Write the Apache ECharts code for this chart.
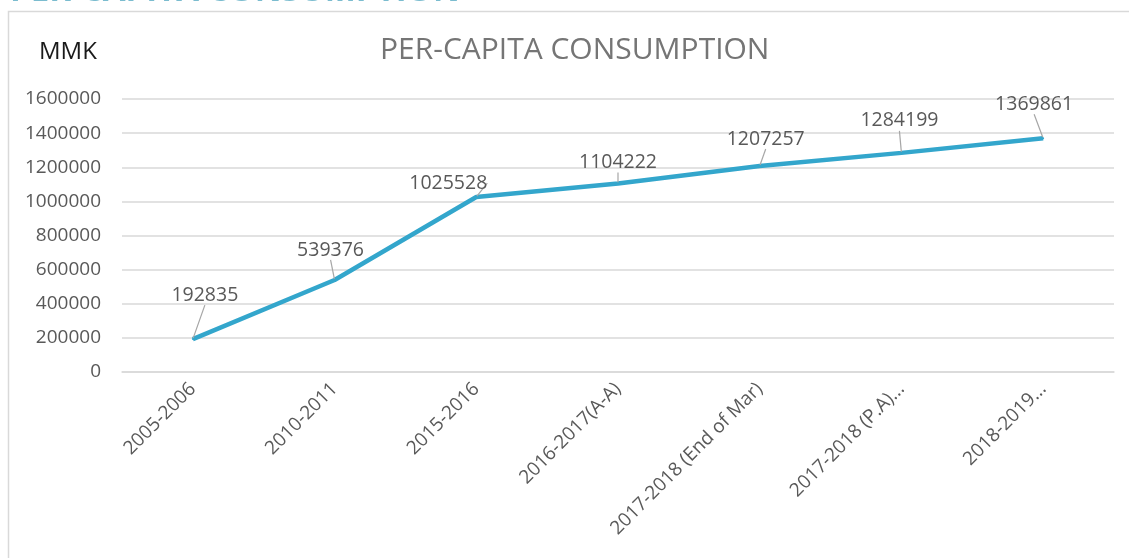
<!DOCTYPE html>
<html>
<head>
<meta charset="utf-8">
<script src="https://cdn.jsdelivr.net/npm/echarts@6/dist/echarts.min.js"></script>
<style>
html,body{margin:0;padding:0;background:#fff;}
#chart{width:1129px;height:558px;}
</style>
</head>
<body>
<div id="chart"></div>
<script>
const categories = ['2005-2006','2010-2011','2015-2016','2016-2017(A-A)','2017-2018 (End of Mar)','2017-2018 (P.A)...','2018-2019...'];
const consumption = [192835, 539376, 1025528, 1104222, 1207257, 1284199, 1369861];
const chartTitle = 'PER-CAPITA CONSUMPTION';
const unitLabel = 'MMK';
const pageHeading = 'PER-CAPITA CONSUMPTION';

// label offsets from each point (style only)
const labelShift = [[12,-44],[-4,-30],[-28,-14],[0,-21],[6,-27],[-2,-32],[-9,-34]];

const chart = echarts.init(document.getElementById('chart'));
const font = '"Open Sans", Calibri, "Liberation Sans", sans-serif';
chart.setOption({
  animation:false,
  backgroundColor:'#fff',
  graphic:[
    {type:'rect', shape:{x:8.5,y:11.5,width:1140,height:560}, style:{fill:'none',stroke:'#d9d9d9',lineWidth:1.5}, z:-1},
    {type:'text', style:{x:10, y:8, verticalAlign:'bottom', text:pageHeading, fill:'#7bbccf', font:'bold 33px ' + font}},
    {type:'text', left:39, top:40, style:{text:unitLabel, fill:'#1a1a1a', font:'24px ' + font}}
  ],
  title:{
    text:chartTitle, left:375, top:30,
    textStyle:{color:'#757575', fontSize:30, fontWeight:'normal', fontFamily:font}
  },
  grid:{left:122, right:15, top:99, bottom:186},
  xAxis:{
    type:'category', data:categories, boundaryGap:true,
    axisLine:{show:true, lineStyle:{color:'#d9d9d9', width:1.5}},
    axisTick:{show:false},
    axisLabel:{rotate:45, color:'#595959', fontSize:19, fontFamily:font, margin:14, interval:0}
  },
  yAxis:{
    type:'value', min:0, max:1600000, interval:200000,
    axisLine:{show:false}, axisTick:{show:false},
    axisLabel:{color:'#595959', fontSize:19, fontFamily:font, margin:21, formatter:function(v){return String(v);}},
    splitLine:{lineStyle:{color:'#d9d9d9', width:1.5}}
  },
  series:[{
    type:'line', data:consumption,
    symbol:'circle', symbolSize:2, showSymbol:true,
    itemStyle:{color:'#33a6cc'},
    lineStyle:{color:'#33a6cc', width:4.5},
    label:{show:true, position:'inside', color:'#595959', fontSize:19.5, fontFamily:font},
    labelLine:{show:true, lineStyle:{color:'#a6a6a6', width:1.2}},
    labelLayout:function(p){
      const s = labelShift[p.dataIndex];
      return {dx:s[0], dy:s[1]};
    }
  }]
});
</script>
</body>
</html>
